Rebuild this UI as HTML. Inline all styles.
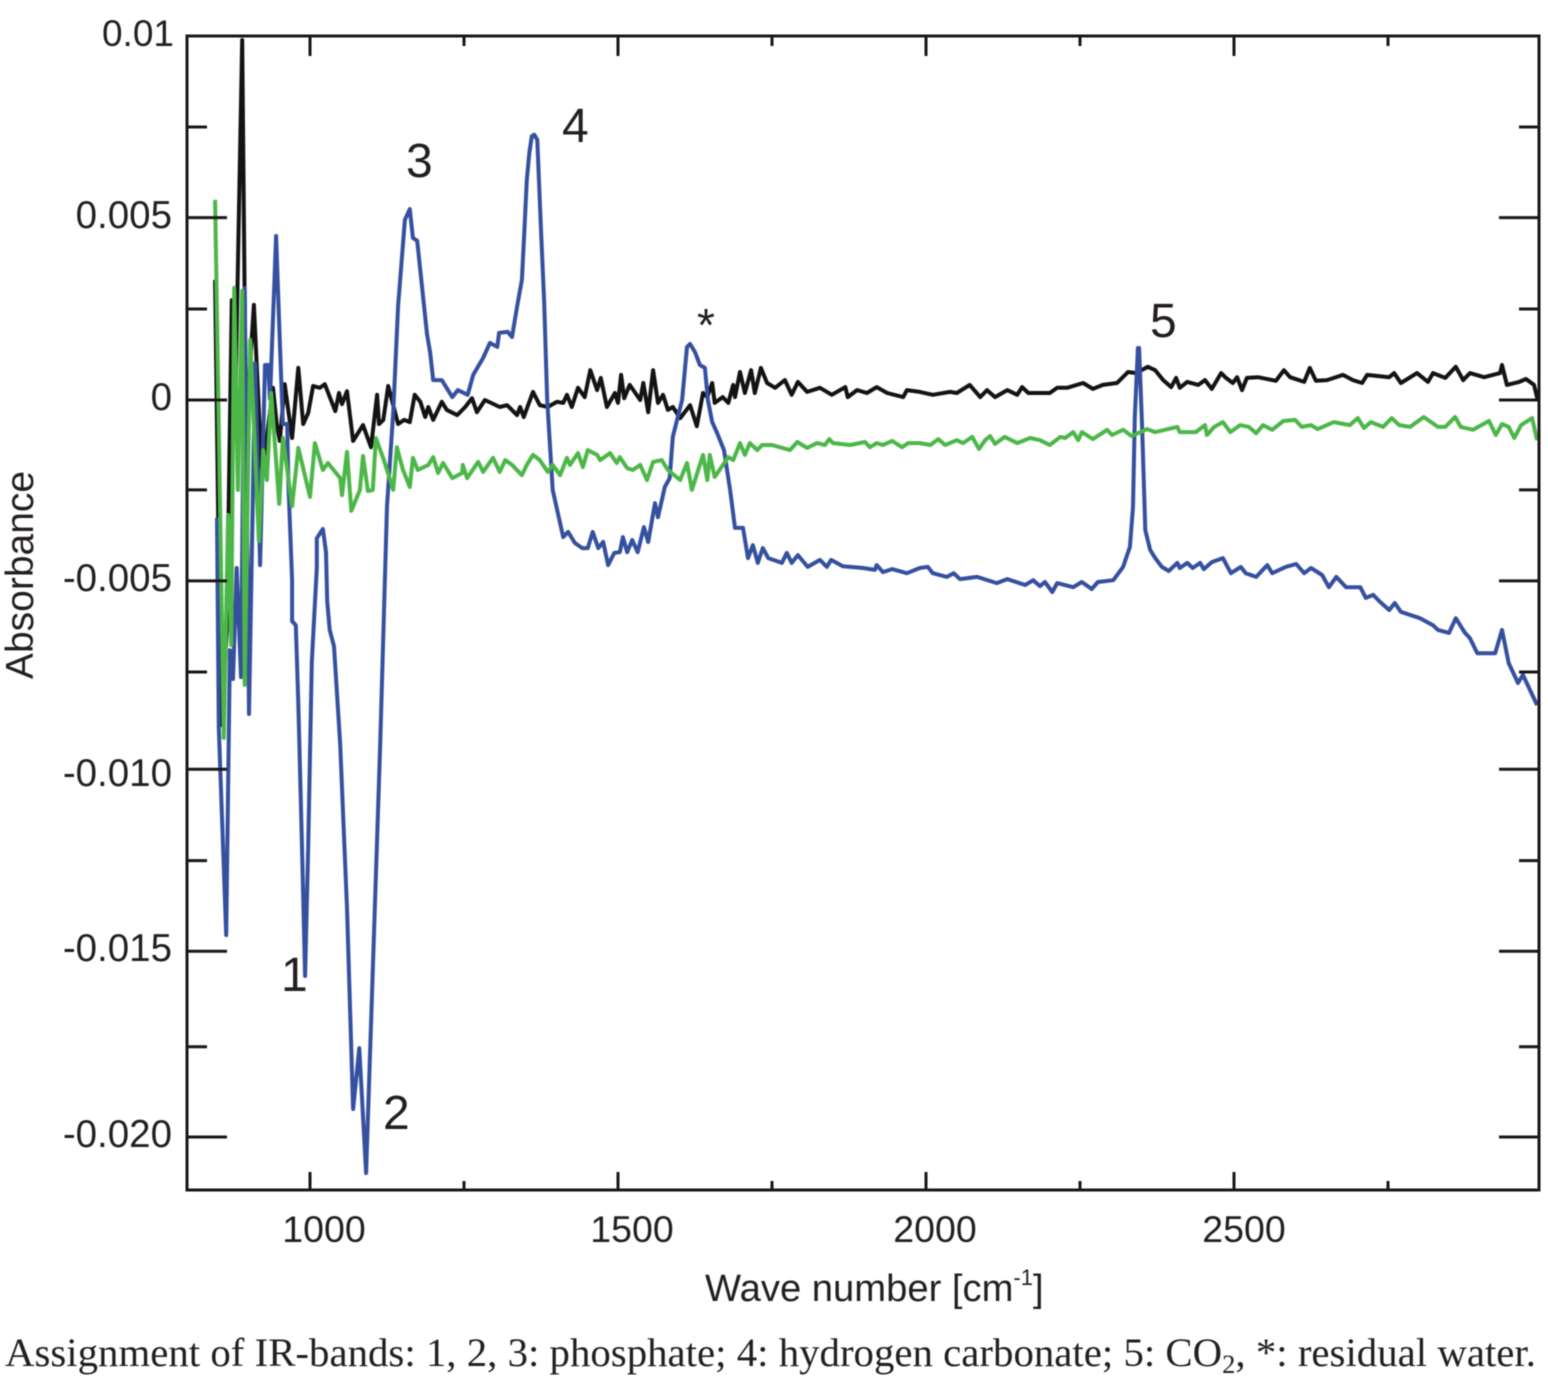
<!DOCTYPE html>
<html lang="en">
<head>
<meta charset="utf-8">
<title>IR absorbance spectra</title>
<style>
html,body{margin:0;padding:0;background:#fff;}
body{width:1548px;height:1380px;overflow:hidden;}
svg{display:block;filter:blur(0.5px);}
text{fill:#231f20;font-family:"Liberation Sans",sans-serif;}
.serif{font-family:"Liberation Serif",serif;}
</style>
</head>
<body>
<svg id="chart" xmlns="http://www.w3.org/2000/svg" width="1548" height="1380" viewBox="0 0 1548 1380">
  <g id="marks"></g>
  <g id="ticks"></g>
  <rect x="187" y="36" width="1352" height="1154" fill="none" stroke="#1a1718" stroke-width="3"/>

  <g font-size="38.5" text-anchor="end">
    <text x="174" y="46" font-size="37">0.01</text>
    <text x="172" y="228">0.005</text>
    <text x="172" y="410">0</text>
    <text x="172" y="591">-0.005</text>
    <text x="172" y="786">-0.010</text>
    <text x="172" y="961">-0.015</text>
    <text x="172" y="1147">-0.020</text>
  </g>
  <g font-size="37.5" text-anchor="middle">
    <text x="324" y="1242">1000</text>
    <text x="632" y="1242">1500</text>
    <text x="935" y="1242">2000</text>
    <text x="1244" y="1242">2500</text>
  </g>
  <text font-size="39" text-anchor="middle" transform="translate(33 575) rotate(-90)">Absorbance</text>
  <text font-size="38.2" x="705" y="1301">Wave number [cm<tspan font-size="22" dy="-16">-1</tspan><tspan dy="16">]</tspan></text>

  <text font-size="48" x="281" y="991">1</text>
  <text font-size="48" x="383" y="1129">2</text>
  <text font-size="48" x="406" y="177">3</text>
  <text font-size="48" x="562" y="142">4</text>
  <text font-size="48" x="1150" y="337">5</text>
  <text font-size="46" x="697" y="341">*</text>

  <text class="serif" font-size="40" x="5" y="1366" textLength="1531" lengthAdjust="spacingAndGlyphs">Assignment of IR-bands: 1, 2, 3: phosphate; 4: hydrogen carbonate; 5: CO<tspan font-size="26" dy="7">2</tspan><tspan dy="-7">, *: residual water.</tspan></text>
</svg>
<script>
// Wavenumber (cm-1) and absorbance (in units of 0.001).
const blueWave = [849,852,864,870,875,881,888,894,901,911,919,927,932,935,945,951,956,963,965,971,971,977,981,987,992,997,1003,1011,1011,1021,1026,1028,1032,1039,1049,1060,1070,1080,1091,1102,1114,1125,1135,1143,1154,1162,1167,1174,1190,1195,1200,1214,1231,1240,1256,1265,1281,1292,1304,1307,1321,1328,1336,1344,1348,1352,1356,1360,1364,1369,1372,1375,1380,1385,1394,1411,1419,1430,1442,1451,1459,1468,1476,1484,1494,1503,1508,1515,1523,1532,1542,1549,1560,1565,1576,1584,1589,1604,1612,1617,1625,1633,1641,1646,1653,1661,1672,1682,1690,1703,1711,1719,1727,1735,1744,1766,1774,1782,1792,1808,1828,1839,1846,1865,1898,1917,1920,1930,1945,1969,1990,2003,2011,2034,2045,2055,2083,2115,2132,2161,2174,2185,2193,2205,2213,2239,2253,2269,2279,2304,2320,2331,2336,2339,2344,2346,2351,2356,2364,2372,2383,2394,2408,2412,2424,2433,2445,2451,2464,2482,2495,2511,2519,2536,2554,2562,2584,2601,2614,2625,2643,2654,2666,2682,2705,2714,2726,2737,2752,2761,2771,2802,2823,2831,2849,2860,2875,2883,2895,2924,2935,2946,2961,2969,2992];
const blueAbs = [-3.2,-8.9,-14.52,-6.79,-7.57,-4.56,-7.52,3.04,-8.52,1,-4.48,0.95,0.95,0.03,4.45,1.6,-0.65,-0.65,-2.28,-4.89,-6,-6.11,-8.22,-12.13,-15.63,-12.13,-7.11,-4.56,-3.75,-3.5,-4.13,-5.46,-6.24,-6.68,-9.34,-13.79,-19.24,-17.59,-20.98,-15.47,-9.34,-2.88,-0.35,2.55,4.89,5.18,4.4,4.32,1.79,1.3,0.54,0.54,0.08,0.27,0.14,0.68,1.14,1.55,1.44,1.82,1.85,1.71,2.52,3.26,4.61,5.97,6.7,7.16,7.2,7.06,5.8,4.61,2.71,0,-2.44,-3.72,-3.58,-3.88,-4.02,-4.02,-3.58,-4.02,-3.85,-4.48,-4.15,-4.13,-3.72,-4.13,-3.8,-4.13,-3.45,-3.85,-2.8,-3.18,-2.36,-2.12,-1,0,1.44,1.52,1.3,0.95,0.87,0,-0.6,-0.9,-1.36,-2.44,-3.47,-3.47,-4.29,-3.94,-4.42,-4.02,-4.29,-4.42,-4.15,-4.42,-4.21,-4.53,-4.34,-4.53,-4.34,-4.51,-4.56,-4.61,-4.48,-4.67,-4.59,-4.7,-4.56,-4.53,-4.7,-4.8,-4.7,-4.86,-4.8,-4.97,-4.86,-5.02,-4.89,-5.05,-4.94,-5.21,-4.97,-5.08,-4.94,-5.13,-4.94,-4.89,-4.53,-3.99,-2.9,-0.46,1.41,1.41,-0.81,-3.53,-4.07,-4.29,-4.53,-4.64,-4.42,-4.56,-4.42,-4.56,-4.42,-4.59,-4.4,-4.29,-4.7,-4.53,-4.7,-4.8,-4.48,-4.7,-4.53,-4.45,-4.7,-4.56,-4.75,-5.08,-4.8,-5.08,-5.08,-5.37,-5.29,-5.48,-5.7,-5.51,-5.75,-5.92,-6.11,-6.24,-6.32,-5.92,-6.32,-6.46,-6.87,-6.87,-6.24,-7.14,-7.68,-7.46,-8.28];

const blackWave = [846,851,856,865,873,878,890,896,909,922,940,946,951,959,971,981,989,997,1005,1016,1024,1041,1047,1052,1060,1070,1086,1099,1109,1112,1119,1127,1143,1153,1162,1170,1179,1187,1192,1200,1214,1222,1239,1252,1263,1271,1284,1308,1320,1336,1341,1347,1354,1362,1373,1386,1401,1411,1417,1425,1435,1446,1455,1466,1472,1482,1495,1500,1505,1510,1519,1536,1541,1549,1557,1565,1573,1581,1589,1601,1617,1628,1638,1645,1653,1657,1670,1679,1687,1690,1698,1706,1716,1722,1732,1742,1755,1771,1782,1792,1807,1828,1847,1869,1873,1888,1904,1920,1937,1963,1969,1990,2011,2039,2050,2071,2088,2099,2112,2132,2148,2156,2166,2201,2213,2229,2255,2271,2287,2310,2328,2341,2360,2372,2385,2398,2406,2412,2424,2442,2453,2464,2479,2487,2498,2505,2513,2521,2539,2568,2581,2591,2614,2623,2633,2651,2677,2693,2708,2716,2752,2760,2771,2797,2815,2823,2843,2860,2872,2883,2906,2932,2935,2943,2963,2974,2987,2993];
const blackAbs = [3.26,-3.26,-8.82,-6.24,2.71,-0.81,9.77,-0.81,2.58,-2.09,0.33,-0.65,-1.11,0.43,-1.03,0.87,-0.65,-0.35,0.38,0.33,0.43,-0.3,0.19,-0.11,0.24,-1.11,-0.68,-1.28,0.14,-0.65,-0.54,0.38,-0.65,-0.54,-0.6,0.14,-0.05,-0.46,-0.19,-0.54,-0.05,-0.27,-0.41,-0.19,0.05,-0.33,0,-0.19,-0.14,-0.41,-0.19,-0.46,-0.14,0.22,-0.14,-0.19,-0.05,-0.08,0.14,-0.19,0.33,0.08,0.81,0.27,0.6,-0.19,0.19,-0.08,0.68,0.05,0.41,0,0.46,-0.33,0.81,-0.08,0.14,-0.27,-0.19,-0.49,-0.14,-0.71,0.19,0.08,0.46,-0.08,0.08,-0.08,0.41,0.08,0.76,0.19,0.81,0.19,0.87,0.46,0.33,0.54,0.14,0.49,0.22,0.33,0.14,0.35,0.08,0.27,0.19,0.35,0.19,0.08,0.27,0.22,0.14,0.22,0.19,0.41,0.08,0.27,0.08,0.27,0.14,0.35,0.19,0.19,0.33,0.33,0.46,0.3,0.41,0.46,0.76,0.73,0.9,0.81,0.54,0.35,0.6,0.33,0.49,0.41,0.54,0.3,0.73,0.6,0.46,0.62,0.27,0.6,0.62,0.52,0.81,0.62,0.49,0.87,0.52,0.54,0.68,0.54,0.46,0.68,0.62,0.73,0.46,0.73,0.49,0.73,0.6,0.9,0.54,0.73,0.62,0.73,0.95,0.41,0.49,0.57,0.41,0];

const greenWave = [846,860,867,872,877,883,890,894,903,917,924,930,937,950,956,971,981,1000,1008,1021,1029,1049,1052,1060,1067,1081,1086,1094,1102,1107,1120,1135,1141,1151,1162,1167,1175,1192,1200,1208,1216,1231,1247,1248,1255,1273,1281,1297,1308,1317,1328,1344,1352,1362,1373,1386,1394,1406,1417,1422,1435,1443,1451,1466,1471,1487,1498,1503,1515,1524,1536,1547,1557,1571,1581,1601,1612,1620,1638,1645,1649,1657,1679,1687,1698,1706,1714,1726,1734,1750,1779,1791,1807,1823,1836,1843,1849,1877,1901,1909,1920,1930,1945,1961,1971,1990,2007,2020,2031,2050,2060,2075,2086,2096,2104,2112,2128,2148,2169,2185,2201,2218,2226,2239,2247,2253,2271,2294,2302,2320,2334,2359,2372,2408,2412,2438,2453,2456,2468,2482,2494,2510,2524,2536,2547,2562,2580,2599,2610,2625,2636,2662,2688,2701,2711,2722,2742,2756,2768,2786,2808,2831,2843,2859,2868,2888,2914,2925,2935,2946,2955,2966,2984,2992];
const greenAbs = [5.43,-9.17,-3.12,-6.65,3.04,-2.44,2.96,-7.73,1.63,-3.83,-1.36,-2.17,0.19,-2.82,-1.03,-2.88,-1.3,-2.63,-1.17,-1.9,-1.71,-2.12,-2.58,-1.41,-3.01,-2.44,-1.52,-2.47,-2.44,-1.03,-1.63,-2.44,-1.28,-1.9,-2.36,-1.57,-1.9,-1.76,-1.55,-1.98,-1.71,-2.12,-1.98,-1.76,-2.12,-1.68,-1.95,-1.57,-1.95,-1.63,-1.76,-2.04,-1.76,-1.49,-1.63,-1.95,-1.76,-2.04,-1.57,-1.76,-1.44,-1.82,-1.36,-1.49,-1.63,-1.44,-1.71,-1.55,-1.85,-1.9,-1.76,-2.17,-1.68,-1.63,-1.9,-2.17,-1.71,-2.44,-1.49,-2.17,-1.49,-2.09,-1.55,-1.63,-1.17,-1.49,-1.17,-1.36,-1.22,-1.22,-1.36,-1.14,-1.3,-1.17,-1.22,-1.06,-1.17,-1.22,-1.14,-1.28,-1.17,-1.22,-1.11,-1.28,-1.17,-1.17,-1.22,-1.06,-1.22,-1.09,-1.17,-1,-1.33,-1.09,-0.98,-1.19,-1,-1.17,-1.03,-1.09,-1.22,-1,-1.03,-0.87,-1.09,-0.87,-1.06,-0.81,-0.95,-0.81,-0.98,-0.79,-0.87,-0.73,-0.87,-0.87,-0.68,-0.95,-0.73,-0.6,-0.87,-0.68,-0.73,-0.9,-0.68,-0.81,-0.57,-0.54,-0.73,-0.68,-0.79,-0.6,-0.68,-0.49,-0.76,-0.6,-0.73,-0.49,-0.68,-0.73,-0.46,-0.73,-0.73,-0.46,-0.73,-0.81,-0.57,-0.95,-0.65,-0.73,-1.03,-0.68,-0.49,-1.09];

const xMajorTicks = [1000,1500,2000,2500];
const xMinorTicks = [1250,1750,2250,2750];
// Tick marks as measured in the picture; the original figure's ticks are not perfectly even.
const yMajorTicks = [4.95,0,-4.91,-10.02,-14.96,-20];
const yMinorTicks = [7.41,2.47,-2.44,-7.38,-12.5,-17.55];

function xScale(w){ return 310 + (w - 1000) * 0.616; }
function yScale(m){ return 400 - m * 36.85; }

const NS = 'http://www.w3.org/2000/svg';
const marks = document.getElementById('marks');
const ticks = document.getElementById('ticks');

function linePath(wave, abs){
  let d = '';
  for (let i = 0; i < wave.length; i++) {
    d += (i ? 'L' : 'M') + xScale(wave[i]).toFixed(1) + ' ' + yScale(abs[i]).toFixed(1);
  }
  return d;
}

function addSeries(name, wave, abs, color){
  const el = document.createElementNS(NS, 'path');
  
  
  el.setAttribute('d', linePath(wave, abs));
  el.setAttribute('fill', 'none');
  el.setAttribute('stroke', color);
  el.setAttribute('stroke-width', '4');
  el.setAttribute('stroke-linejoin', 'round');
  marks.appendChild(el);
}
addSeries('black-spectrum', blackWave, blackAbs, '#141213');
addSeries('blue-spectrum', blueWave, blueAbs, '#34509f');
addSeries('green-spectrum', greenWave, greenAbs, '#4cb748');

function addTick(x1, y1, x2, y2){
  const el = document.createElementNS(NS, 'line');
  
  
  el.setAttribute('x1', x1);
  el.setAttribute('y1', y1);
  el.setAttribute('x2', x2);
  el.setAttribute('y2', y2);
  el.setAttribute('stroke', '#1a1718');
  el.setAttribute('stroke-width', '3');
  ticks.appendChild(el);
}
xMajorTicks.forEach(function(t){
  addTick(xScale(t), 36, xScale(t), 56);
  addTick(xScale(t), 1190, xScale(t), 1172);
});
xMinorTicks.forEach(function(t){
  addTick(xScale(t), 36, xScale(t), 46);
  addTick(xScale(t), 1190, xScale(t), 1181);
});
yMajorTicks.forEach(function(t){
  addTick(187, yScale(t), 227, yScale(t));
  addTick(1539, yScale(t), 1499, yScale(t));
});
yMinorTicks.forEach(function(t){
  addTick(187, yScale(t), 207, yScale(t));
  addTick(1539, yScale(t), 1519, yScale(t));
});
</script>
</body>
</html>
